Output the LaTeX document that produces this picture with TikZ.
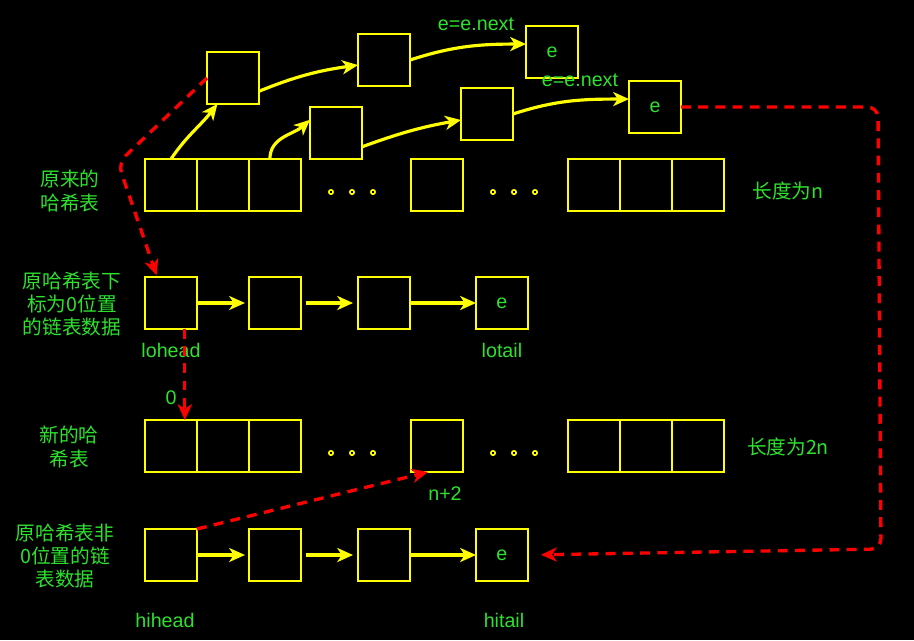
\documentclass[tikz,border=0pt]{standalone}
\usepackage{fontspec}
\setmainfont{Liberation Sans}
\newfontfamily\cjk{Noto Sans CJK SC}
\usepackage{tikz}
\usetikzlibrary{arrows.meta,positioning}
\definecolor{hashyellow}{RGB}{255,255,0}
\definecolor{hashgreen}{RGB}{45,225,45}
\definecolor{hashred}{RGB}{255,0,0}

\begin{document}
\begin{tikzpicture}[x=0.02cm,y=-0.02cm,node distance=0pt,>={Stealth[length=9pt,width=8pt,inset=2.6pt]}]
		\tikzstyle{cell}=[rectangle, draw=hashyellow, line width=1.2pt, minimum size=1.04cm, inner sep=0pt, outer sep=0pt, text=hashgreen, font=\fontsize{11.2pt}{13.3pt}\selectfont]
		\tikzstyle{txt}=[text=hashgreen, align=center, inner sep=0pt, font=\fontsize{11.2pt}{13.3pt}\selectfont]
		\tikzstyle{cjktxt}=[txt, font=\cjk\fontsize{11.2pt}{13.3pt}\selectfont]
		\tikzstyle{link}=[->, draw=hashyellow, line width=1.8pt]
		\tikzstyle{move}=[->, draw=hashred, line width=1.9pt, dash pattern=on 5.6pt off 4.2pt]
		\tikzstyle{dot}=[draw=hashyellow, line width=0.9pt]

		\fill[black] (0,0) rectangle (914,640);
		\useasboundingbox (0,0) rectangle (914,640);

		\node [cell] (o1) at (171,185) {};
		\node [cell] (o2) [right=of o1] {};
		\node [cell] (o3) [right=of o2] {};
		\node [cell] (o4) at (437,185) {};
		\node [cell] (o5) at (594,185) {};
		\node [cell] (o6) [right=of o5] {};
		\node [cell] (o7) [right=of o6] {};
		\node [cjktxt] (oldlbl) at (70,191) {原来的\\哈希表};
		\node [cjktxt] (oldlen) at (788,191) {长度为n};

		\node [cell] (a) at (233,78) {};
		\node [cell] (b) at (384,60) {};
		\node [cell] (c) at (552,52) {e};
		\node [txt] (cnext) at (476,24) {e=e.next};
		\node [cell] (d) at (336,133) {};
		\node [cell] (e) at (487,114) {};
		\node [cell] (f) at (655,107) {e};
		\node [txt] (fnext) at (580,80) {e=e.next};

		\node [cell] (l1) at (171,303) {};
		\node [cell] (l2) [right=1.04cm of l1] {};
		\node [cell] (l3) [right=1.14cm of l2] {};
		\node [cell] (l4) [right=1.32cm of l3] {e};
		\node [txt] (lohead) [below=0.28cm of l1] {lohead};
		\node [txt] (lotail) [below=0.28cm of l4] {lotail};
		\node [cjktxt] (lolbl) at (72,304) {原哈希表下\\标为0位置\\的链表数据};

		\node [cell] (n1) at (171,446) {};
		\node [cell] (n2) [right=of n1] {};
		\node [cell] (n3) [right=of n2] {};
		\node [cell] (n4) at (437,446) {};
		\node [cell] (n5) at (594,446) {};
		\node [cell] (n6) [right=of n5] {};
		\node [cell] (n7) [right=of n6] {};
		\node [cjktxt] (newlbl) at (69,447) {新的哈\\希表};
		\node [cjktxt] (newlen) at (788,447) {长度为2n};
		\node [txt] (zero) at (171,398) {0};
		\node [txt] (nplus) at (445,494) {n+2};

		\node [cell] (h1) at (171,555) {};
		\node [cell] (h2) [right=1.04cm of h1] {};
		\node [cell] (h3) [right=1.14cm of h2] {};
		\node [cell] (h4) [right=1.32cm of h3] {e};
		\node [txt] (hihead) at (165,620) {hihead};
		\node [txt] (hitail) at (504,620) {hitail};
		\node [cjktxt] (hilbl) at (65,556) {原哈希表非\\0位置的链\\表数据};

		\foreach \x in {331,352,373,493,514,535} {
			\draw [dot] (\x,192) circle (2.2);
			\draw [dot] (\x,453) circle (2.2);
		}

		\draw [link] (o1.north) to [out=56,in=232] (a.239);
		\draw [link] (a.-27) to [out=22,in=188] (b.191);
		\draw [link] (b.east) to [out=18,in=180] (c.163);
		\draw [link] (o3.101) to [out=90,in=222] (d.153);
		\draw [link] (d.-28) to [out=20,in=190] (e.193);
		\draw [link] (e.east) to [out=18,in=180] (f.163);

		\draw [link, shorten >=2.3pt] (l1) -- (l2);
		\draw [link, shorten <=2.8pt, shorten >=2.8pt] (l2) -- (l3);
		\draw [link] (l3) -- (l4);
		\draw [link, shorten >=2.3pt] (h1) -- (h2);
		\draw [link, shorten <=2.8pt, shorten >=2.8pt] (h2) -- (h3);
		\draw [link] (h3) -- (h4);

		\draw [move, rounded corners=6pt, shorten >=1pt] (a.west) -- (118,163) -- (l1.118);
		\draw [move] (l1.-62) -- (n1.62);
		\draw [move] (h1.north east) -- (n4.251);
		\draw [move, rounded corners=6pt, shorten >=7.4pt] (f.east) -- (878,107) -- (881,549) -- (h4.east);
	\end{tikzpicture}
\end{document}
